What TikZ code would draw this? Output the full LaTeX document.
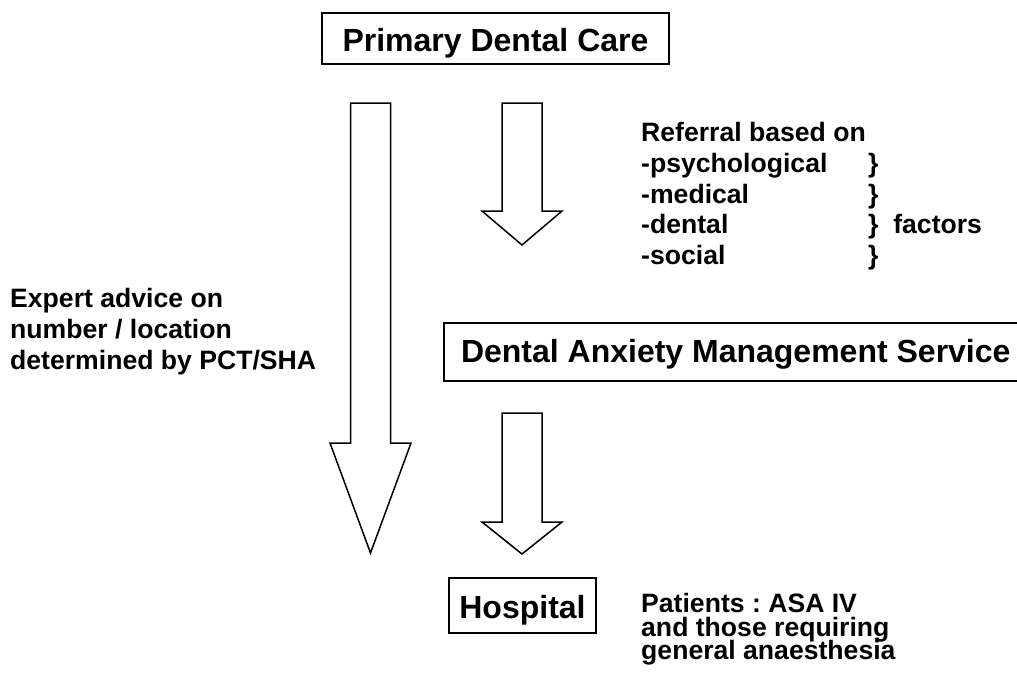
\documentclass[tikz,border=0pt]{standalone}
\usepackage{fontspec}
\setmainfont{Liberation Sans}
\frenchspacing
\begin{document}
\begin{tikzpicture}[x=1pt, y=-1pt,
  box/.style={draw=black, line width=2pt, inner sep=0pt, font=\fontsize{32}{36}\selectfont\bfseries},
  note/.style={inner sep=0pt, align=left, font=\fontsize{26.6}{30.6}\selectfont\bfseries},
  blockarrow/.style={draw=black, line width=1.5pt, line join=miter, fill=white}]

  \useasboundingbox (0,0) rectangle (1017,675);

  % the three boxes
  \node[box, anchor=base, text height=38.7pt, text depth=12.3pt, minimum width=347pt] (pdc) at (495.5, 51.7) {Primary Dental Care};
  \node[box, anchor=base west, inner xsep=17pt, text height=39.7pt, text depth=18.3pt] (dams) at (443, 362.7) {Dental Anxiety Management Service};
  \node[box, anchor=base, text height=40pt, text depth=15pt, minimum width=147pt] (hosp) at (522.5, 618) {Hospital};

  % block arrows
  \draw[blockarrow] (350.5,103) -- (390.5,103) -- (390.5,443) -- (411,443) -- (370.5,553) -- (330,443) -- (350.5,443) -- cycle;
  \draw[blockarrow] (502,103) -- (542,103) -- (542,211) -- (562,211) -- (522,245) -- (482,211) -- (502,211) -- cycle;
  \draw[blockarrow] (502,413) -- (542,413) -- (542,522) -- (562,522) -- (522,554) -- (482,522) -- (502,522) -- cycle;

  % side notes (base = baseline of the last line)
  \node[note, anchor=base west] (expert) at (10, 369) {Expert advice on\\number / location\\determined by PCT/SHA};
  \node[note, anchor=base west] (referral) at (641, 264.3) {Referral based on\\-psychological\\-medical\\-dental\\-social};
  \node[note, anchor=base west] (factors) at (868, 264.3) {\}\\\}\\\}~~factors\\\}};
  \node[note, anchor=base west, font={\fontsize{26.6}{23.2}\selectfont\bfseries\lineskiplimit=-20pt\relax}] (patients) at (641, 659.3) {Patients : ASA IV\\and those requiring\\general anaesthesia};
\end{tikzpicture}
\end{document}
